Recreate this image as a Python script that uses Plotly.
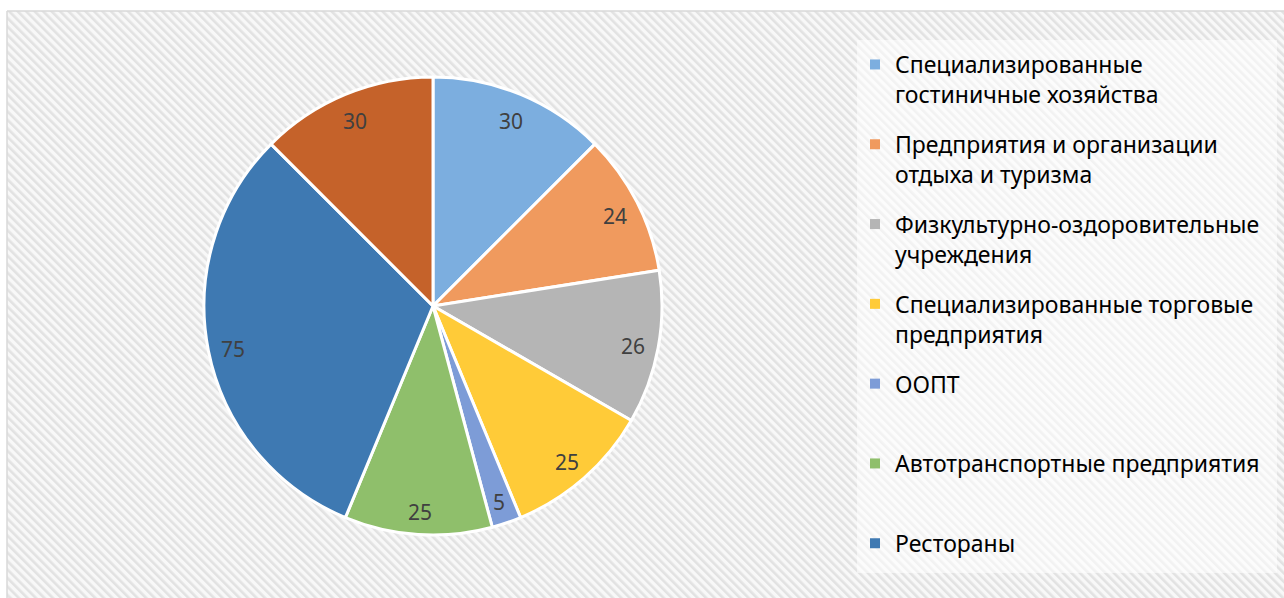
import base64
import numpy as np
import plotly.graph_objects as go

# ---------------- data ----------------
categories = [
    "Специализированные гостиничные хозяйства",
    "Предприятия и организации отдыха и туризма",
    "Физкультурно-оздоровительные учреждения",
    "Специализированные торговые предприятия",
    "ООПТ",
    "Автотранспортные предприятия",
    "Рестораны",
    "Прочие",
]
values = [30, 24, 26, 25, 5, 25, 75, 30]
legend_labels = [
    "Специализированные<br>гостиничные хозяйства",
    "Предприятия и организации<br>отдыха и туризма",
    "Физкультурно-оздоровительные<br>учреждения",
    "Специализированные торговые<br>предприятия",
    "ООПТ<br> ",
    "Автотранспортные предприятия<br> ",
    "Рестораны<br> ",
]
colors = ["#7CAEDF", "#F09A5E", "#B5B5B5", "#FFCB38", "#7D9CD7", "#8FBF6B", "#3E79B2", "#C5622A"]

# ---------------- layout constants ----------------
W, H = 1284, 598
CX, CY, R = 433, 306, 229
FONT = "Noto Sans"

fig = go.Figure()

fig.add_trace(go.Pie(
    labels=categories,
    values=values,
    sort=False,
    direction="clockwise",
    rotation=0,
    marker=dict(colors=colors, line=dict(color="white", width=3)),
    textinfo="none",
    showlegend=False,
    domain=dict(x=[(CX - R) / W, (CX + R) / W], y=[1 - (CY + R) / H, 1 - (CY - R) / H]),
    hoverinfo="label+value",
))

# legend entries
for name, col in zip(legend_labels, colors):
    fig.add_trace(go.Scatter(
        x=[None], y=[None], mode="markers", name=name,
        legendgroup=name,
        marker=dict(symbol="square", size=10, color=col),
    ))

# data labels placed along slice bisectors
vals = np.array(values, dtype=float)
cum = np.cumsum(vals) - vals / 2
theta = cum / vals.sum() * 2 * np.pi
rl = 0.89 * R
annotations = []
for v, t in zip(values, theta):
    px = CX + rl * np.sin(t)
    py = CY - rl * np.cos(t)
    annotations.append(dict(
        x=px / W, y=1 - py / H, xref="paper", yref="paper",
        xanchor="center", yanchor="middle", yshift=-3,
        text=str(v), showarrow=False,
        font=dict(family=FONT, size=21, color="#404040"),
    ))

# hatched background
svg = (
    "<svg xmlns='http://www.w3.org/2000/svg' width='1277' height='587'>"
    "<defs><pattern id='p' width='6' height='6' patternUnits='userSpaceOnUse' "
    "patternTransform='rotate(-45)'>"
    "<rect width='6' height='6' fill='#f8f8f8'/>"
    "<rect width='2.6' height='6' fill='#e2e2e2'/></pattern></defs>"
    "<rect width='100%' height='100%' fill='url(#p)'/></svg>"
)
src = "data:image/svg+xml;base64," + base64.b64encode(svg.encode()).decode()

fig.update_layout(
    width=W, height=H,
    margin=dict(l=0, r=0, t=0, b=0),
    paper_bgcolor="white",
    plot_bgcolor="rgba(0,0,0,0)",
    xaxis=dict(visible=False),
    yaxis=dict(visible=False),
    images=[dict(
        source=src, xref="paper", yref="paper",
        x=7 / W, y=1 - 11 / H, sizex=1 - 7 / W, sizey=1 - 11 / H,
        xanchor="left", yanchor="top", sizing="stretch", layer="below",
    )],
    shapes=[
        dict(type="rect", xref="paper", yref="paper",
             x0=857 / W, x1=1277 / W, y0=1 - 573 / H, y1=1 - 40 / H,
             fillcolor="rgba(255,255,255,0.55)", line=dict(width=0), layer="below"),
        dict(type="line", xref="paper", yref="paper",
             x0=7 / W, x1=1, y0=1 - 11 / H, y1=1 - 11 / H,
             line=dict(color="#d9d9d9", width=1.5)),
        dict(type="line", xref="paper", yref="paper",
             x0=7 / W, x1=7 / W, y0=0, y1=1 - 11 / H,
             line=dict(color="#d9d9d9", width=1.5)),
    ],
    annotations=annotations,
    legend=dict(
        x=855 / W, y=1 - 43 / H, xanchor="left", yanchor="top",
        bgcolor="rgba(0,0,0,0)",
        font=dict(family=FONT, size=23, color="black"),
        valign="top",
        tracegroupgap=17,
        traceorder="grouped",
    ),
    font=dict(family=FONT),
)

fig.write_html("out.html", post_script="document.body.style.margin='0';",
               config={"displayModeBar": False})
